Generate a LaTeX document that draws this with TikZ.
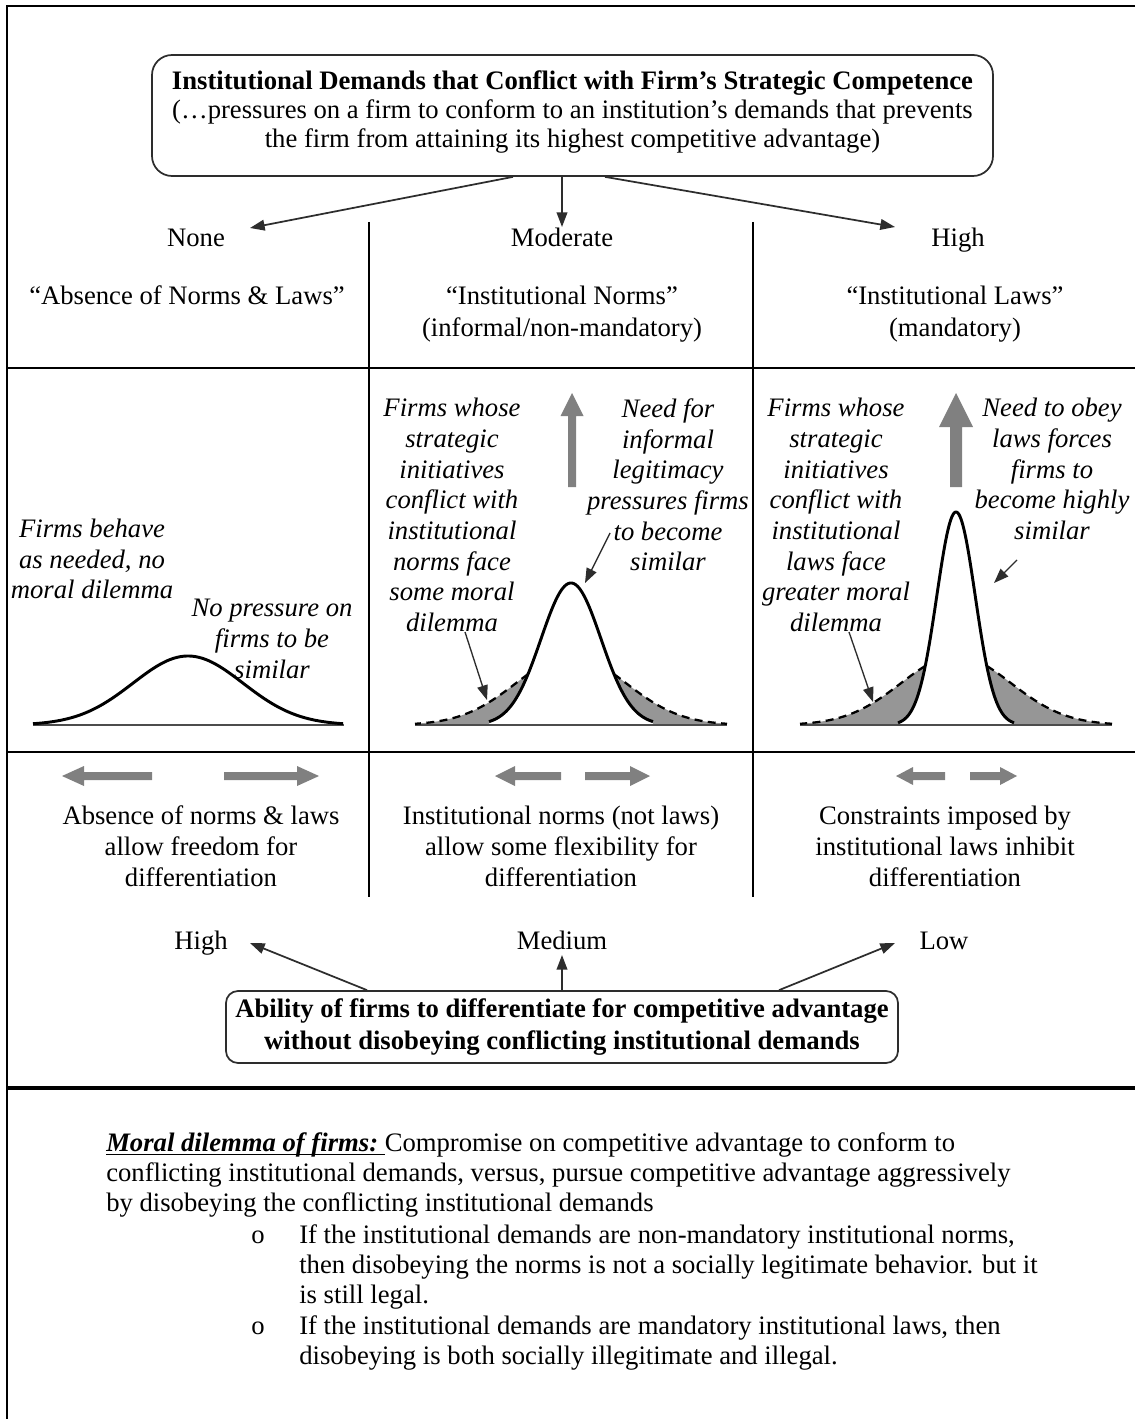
\documentclass[tikz,border=0pt]{standalone}
\usepackage{fontspec}
\setmainfont{Liberation Serif}
\usetikzlibrary{arrows.meta,calc}
\definecolor{arrowgray}{RGB}{128,128,128}
\definecolor{fillgray}{RGB}{150,150,150}
\definecolor{linedark}{RGB}{45,45,45}
\newcommand\myul[1]{\setbox0\hbox{#1}\rlap{\rule[-3.2pt]{\wd0}{1.3pt}}\box0}
\begin{document}
\begin{tikzpicture}[x=0.75pt,y=-0.75pt,
  txt/.style={font=\fontsize{20}{22.5}\selectfont, inner sep=0pt, align=center},
  lbl/.style={font=\fontsize{20}{22.5}\selectfont, inner sep=0pt, text height=13.5pt, text depth=4.5pt},
  itx/.style={font=\fontsize{20}{23}\selectfont\itshape, inner sep=0pt, align=center},
  para/.style={font=\fontsize{20}{23}\selectfont, inner sep=0pt, anchor=west, text height=13.5pt, text depth=4.5pt},
  bx/.style={draw=linedark, line width=1.3pt, inner sep=0pt, align=center},
  conn/.style={draw=linedark, line width=1.3pt, -{Triangle[length=11pt,width=8pt]}},
  ptr/.style={draw=linedark, line width=1pt, -{Triangle[length=11pt,width=8pt]}},
  frame/.style={line width=2pt, line join=miter},
  rulel/.style={line width=1.5pt},
  thickrule/.style={line width=2.6pt},
  divider/.style={line width=1.1pt},
  curve/.style={line width=2.2pt, line join=round},
  dashcurve/.style={line width=1.7pt, dash pattern=on 6pt off 4pt},
  axis/.style={line width=1pt, draw=black!70},
  blockarrow/.style={fill=arrowgray}
]
\useasboundingbox (0,0) rectangle (1135,1419);
\fill[white] (0,0) rectangle (1135,1419);

% frame and grid
\draw[frame] (1135,6) -- (7,6) -- (7,1419);
\draw[rulel] (7,368) -- (1135,368);
\draw[rulel] (7,752) -- (1135,752);
\draw[thickrule] (7,1088) -- (1135,1088);
\draw[divider] (369,222) -- (369,897);
\draw[divider] (753,222) -- (753,897);

% top box
\node[bx, rounded corners=15pt, minimum width=630.75pt, minimum height=90.75pt] (top) at (572.5,115.5) {};
\node[txt, font=\fontsize{20}{22}\selectfont] (toptext) at (572.5,112) {{\bfseries Institutional Demands that Conflict with Firm’s Strategic Competence}\\(…pressures on a firm to conform to an institution’s demands that prevents\\the firm from attaining its highest competitive advantage)};

% level labels
\node[lbl] (none) at (196,241) {None};
\node[lbl] (moderate) at (562,241) {Moderate};
\node[lbl] (high) at (958,241) {High};
\draw[conn] ($(top.south)+(-59.5,0)$) -- ($(none)+(54,-13)$);
\draw[conn] ($(top.south)+(-10.5,0)$) -- ($(moderate)+(0,-14)$);
\draw[conn] ($(top.south)+(32.5,0)$) -- ($(high)+(-63,-14)$);

\node[lbl] (q1) at (187,299) {“Absence of Norms \& Laws”};
\node[txt, font=\fontsize{20}{24.5}\selectfont] (q2) at (562,314) {“Institutional Norms”\\(informal/non-mandatory)};
\node[txt, font=\fontsize{20}{24.5}\selectfont] (q3) at (955,314) {“Institutional Laws”\\(mandatory)};

% ---------- column 1 curve ----------
\draw[axis] (33,725) -- (344,725);
\draw[curve] plot[domain=-155:155, samples=100, smooth] ({188+\x},{725-69*exp(-0.5*(\x/55)*(\x/55))});
\node[itx] (c1a) at (92,559) {Firms behave\\as needed, no\\moral dilemma};
\node[itx] (c1b) at (272,639) {No pressure on\\firms to be\\similar};

% ---------- column 2 curve ----------
\fill[fillgray] plot[domain=43:156, samples=50] ({571+\x},{725-69*exp(-0.5*(\x/55)*(\x/55))}) -- (653,725) -- plot[domain=82:43, samples=40] ({571+\x},{725-142*exp(-0.5*(\x/30)*(\x/30))}) -- cycle;
\fill[fillgray] plot[domain=-43:-156, samples=50] ({571+\x},{725-69*exp(-0.5*(\x/55)*(\x/55))}) -- (489,725) -- plot[domain=-82:-43, samples=40] ({571+\x},{725-142*exp(-0.5*(\x/30)*(\x/30))}) -- cycle;
\draw[axis] (415,725) -- (727,725);
\draw[dashcurve] plot[domain=43:156, samples=50] ({571+\x},{725-69*exp(-0.5*(\x/55)*(\x/55))});
\draw[dashcurve] plot[domain=-43:-156, samples=50] ({571+\x},{725-69*exp(-0.5*(\x/55)*(\x/55))});
\draw[curve] plot[domain=-82:82, samples=120, smooth] ({571+\x},{725-142*exp(-0.5*(\x/30)*(\x/30))});
\fill[blockarrow] (568,487) -- (568,416) -- (560.5,416) -- (572,393) -- (583.5,416) -- (576,416) -- (576,487) -- cycle;
\node[itx] (c2a) at (452,515) {Firms whose\\strategic\\initiatives\\conflict with\\institutional\\norms face\\some moral\\dilemma};
\node[itx] (c2b) at (668,485) {Need for\\informal\\legitimacy\\pressures firms\\to become\\similar};
\coordinate (p2peak) at (585,583);
\coordinate (p2tail) at (487,700);
\draw[ptr] ($(c2b)+(-58,48)$) -- (p2peak);
\draw[ptr] ($(c2a)+(13,117)$) -- (p2tail);

% ---------- column 3 curve ----------
\fill[fillgray] plot[domain=31:156, samples=50] ({956+\x},{725-69*exp(-0.5*(\x/55)*(\x/55))}) -- (1014,725) -- plot[domain=58:31, samples=40] ({956+\x},{725-213*exp(-0.5*(\x/19.2)*(\x/19.2))}) -- cycle;
\fill[fillgray] plot[domain=-31:-156, samples=50] ({956+\x},{725-69*exp(-0.5*(\x/55)*(\x/55))}) -- (898,725) -- plot[domain=-58:-31, samples=40] ({956+\x},{725-213*exp(-0.5*(\x/19.2)*(\x/19.2))}) -- cycle;
\draw[axis] (800,725) -- (1112,725);
\draw[dashcurve] plot[domain=31:156, samples=50] ({956+\x},{725-69*exp(-0.5*(\x/55)*(\x/55))});
\draw[dashcurve] plot[domain=-31:-156, samples=50] ({956+\x},{725-69*exp(-0.5*(\x/55)*(\x/55))});
\draw[curve] plot[domain=-58:58, samples=140, smooth] ({956+\x},{725-213*exp(-0.5*(\x/19.2)*(\x/19.2))});
\fill[blockarrow] (950,487) -- (950,427) -- (939,427) -- (956,393) -- (973,427) -- (962,427) -- (962,487) -- cycle;
\node[itx] (c3a) at (836,515) {Firms whose\\strategic\\initiatives\\conflict with\\institutional\\laws face\\greater moral\\dilemma};
\node[itx] (c3b) at (1052,469) {Need to obey\\laws forces\\firms to\\become highly\\similar};
\coordinate (p3side) at (994,583);
\coordinate (p3tail) at (873,702);
\draw[ptr] ($(c3b)+(-35,91)$) -- (p3side);
\draw[ptr] ($(c3a)+(13,117)$) -- (p3tail);

% ---------- row 3: horizontal grey arrows ----------
\fill[blockarrow] (152,772) -- (84,772) -- (84,766) -- (62,776) -- (84,786) -- (84,780) -- (152,780) -- cycle;
\fill[blockarrow] (224,772) -- (297,772) -- (297,766) -- (319,776) -- (297,786) -- (297,780) -- (224,780) -- cycle;
\fill[blockarrow] (561,772) -- (515,772) -- (515,766) -- (495,776) -- (515,786) -- (515,780) -- (561,780) -- cycle;
\fill[blockarrow] (585,772) -- (630,772) -- (630,766) -- (650,776) -- (630,786) -- (630,780) -- (585,780) -- cycle;
\fill[blockarrow] (945,772) -- (913,772) -- (913,767) -- (896,776) -- (913,785) -- (913,780) -- (945,780) -- cycle;
\fill[blockarrow] (970,772) -- (1000,772) -- (1000,767) -- (1017,776) -- (1000,785) -- (1000,780) -- (970,780) -- cycle;

\node[txt, font=\fontsize{20}{23.2}\selectfont] (r1) at (201,846) {Absence of norms \& laws\\allow freedom for\\differentiation};
\node[txt, font=\fontsize{20}{23.2}\selectfont] (r2) at (561,846) {Institutional norms (not laws)\\allow some flexibility for\\differentiation};
\node[txt, font=\fontsize{20}{23.2}\selectfont] (r3) at (945,846) {Constraints imposed by\\institutional laws inhibit\\differentiation};

% ---------- row 4 ----------
\node[lbl] (hi) at (201,943) {High};
\node[lbl] (med) at (562,943) {Medium};
\node[lbl] (lo) at (944,943) {Low};
\node[bx, rounded corners=9pt, minimum width=504pt, minimum height=54pt, font=\fontsize{20}{23.5}\selectfont\bfseries] (abil) at (562,1027) {Ability of firms to differentiate for competitive advantage\\without disobeying conflicting institutional demands};
\draw[conn] ($(abil.north)+(-195,0)$) -- ($(hi)+(49,0)$);
\draw[conn] (abil.north) -- ($(med)+(0,12)$);
\draw[conn] ($(abil.north)+(217,0)$) -- ($(lo)+(-49,0)$);

% ---------- bottom paragraph ----------
\node[para] (m1) at (106,1145) {\myul{\textbf{\textit{Moral dilemma of firms:}}\ }Compromise on competitive advantage to conform to};
\node[para] (m2) at (106,1175) {conflicting institutional demands, versus, pursue competitive advantage aggressively};
\node[para] (m3) at (106,1205) {by disobeying the conflicting institutional demands};
\node[lbl] (b1) at (258,1237) {o};
\node[para] (b1a) at (299,1237) {If the institutional demands are non-mandatory institutional norms,};
\node[para] (b1b) at (299,1267) {then disobeying the norms is not a socially legitimate behavior. but it};
\node[para] (b1c) at (299,1297) {is still legal.};
\node[lbl] (b2) at (258,1328) {o};
\node[para] (b2a) at (299,1328) {If the institutional demands are mandatory institutional laws, then};
\node[para] (b2b) at (299,1358) {disobeying is both socially illegitimate and illegal.};
\end{tikzpicture}
\end{document}
